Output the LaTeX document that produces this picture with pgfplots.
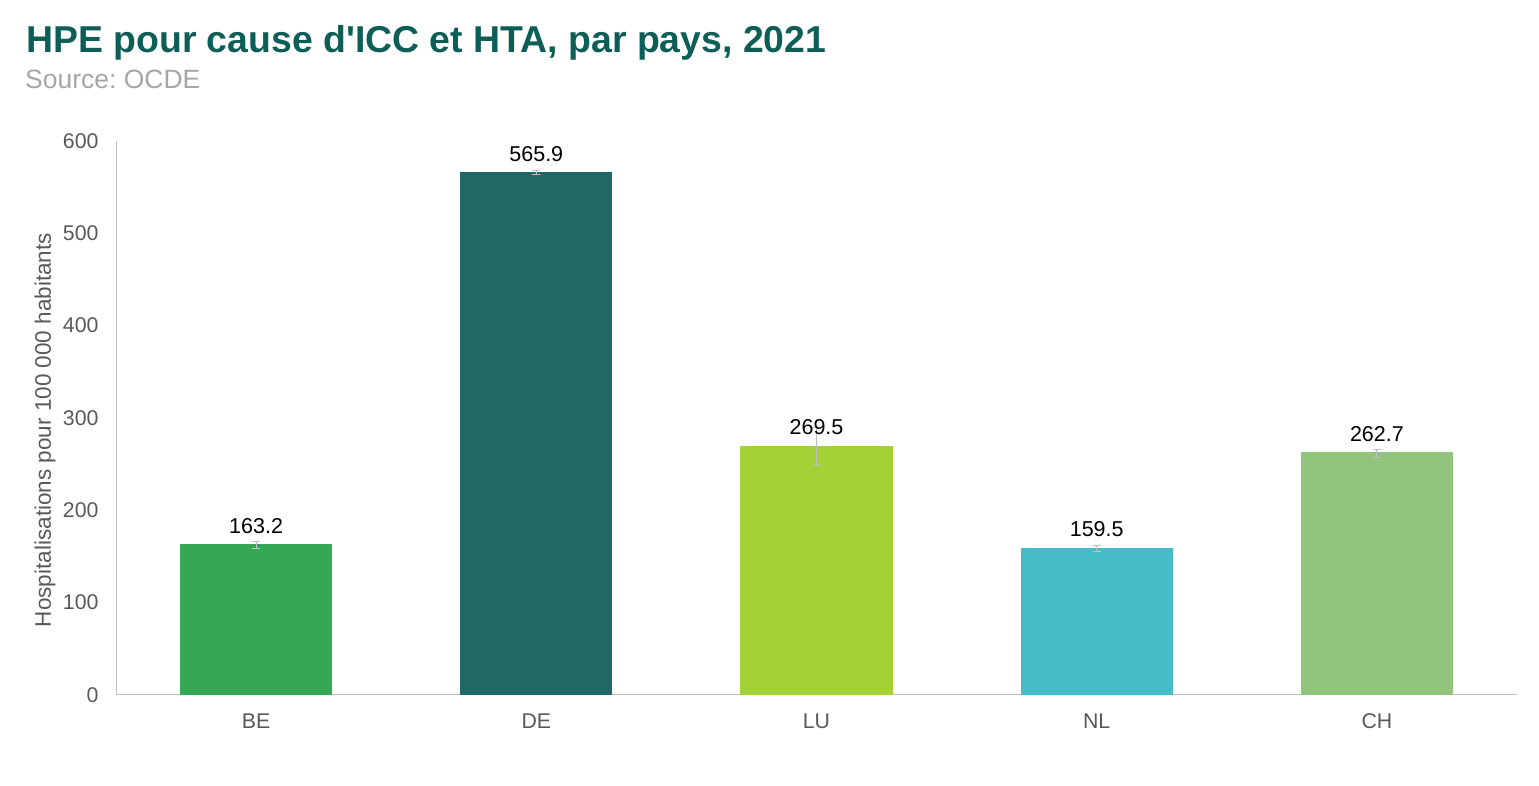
\documentclass[border=0pt]{standalone}
\usepackage{fontspec}
\setmainfont{Liberation Sans}
\usepackage{pgfplots}
\pgfplotsset{compat=1.18}
\frenchspacing
\definecolor{cBE}{HTML}{35A853}
\definecolor{cDE}{HTML}{216966}
\definecolor{cLU}{HTML}{A3D136}
\definecolor{cNL}{HTML}{47BBC7}
\definecolor{cCH}{HTML}{93C47D}
\definecolor{ctitle}{HTML}{0E5E58}
\definecolor{csrc}{HTML}{A6A6A6}
\definecolor{ctick}{HTML}{595959}
\definecolor{caxis}{HTML}{BFBFBF}
\begin{document}
\begin{tikzpicture}[x=1bp,y=1bp]
\path (0,0) rectangle (1539,785);
\node[anchor=base west, inner sep=0pt, text=ctitle, font=\fontsize{37.4bp}{42bp}\selectfont\bfseries] at (26,732) {HPE pour cause d\textquotesingle ICC et HTA, par pays, 2021};
\node[anchor=base west, inner sep=0pt, text=csrc, font=\fontsize{26.5bp}{30bp}\selectfont] at (25,696) {Source: OCDE};
\node[rotate=90, inner sep=0pt, text=ctick, font=\fontsize{22.5bp}{26bp}\selectfont] at (45,355) {Hospitalisations pour 100 000 habitants};
\begin{axis}[
  at={(116bp,90bp)}, anchor=south west,
  scale only axis, width=1401bp, height=554bp,
  xmin=-0.5, xmax=4.5, ymin=0, ymax=600,
  axis x line*=bottom, axis y line*=left,
  axis line style={draw=caxis, line width=1bp, -},
  major tick length=0pt,
  ytick={0,100,200,300,400,500,600},
  xtick={0,1,2,3,4}, xticklabels={BE,DE,LU,NL,CH},
  /pgf/number format/assume math mode=true,
  tick label style={text=ctick, font=\fontsize{21.3bp}{25bp}\selectfont},
  yticklabel style={xshift=-14bp},
  xticklabel style={yshift=-15bp},
  clip=false,
  nodes near coords,
  nodes near coords style={text=black, font=\fontsize{21.5bp}{25bp}\selectfont, anchor=south, yshift=7.5bp,
    /pgf/number format/fixed, /pgf/number format/fixed zerofill, /pgf/number format/precision=1, /pgf/number format/assume math mode=true},
  every axis plot/.append style={ybar, bar shift=0pt, bar width=0.543, draw=none,
    error bars/y dir=both, error bars/y explicit,
    error bars/error bar style={draw=caxis, line width=1bp},
    error bars/error mark options={rotate=90, mark size=4bp, draw=caxis, line width=1bp}},
]
\addplot[fill=cBE] coordinates {(0,163.2) += (0,3.5) -= (0,4.5)};
\addplot[fill=cDE] coordinates {(1,565.9) += (0,1.6) -= (0,2.2)};
\addplot[fill=cLU] coordinates {(2,269.5) += (0,20) -= (0,20)};
\addplot[fill=cNL] coordinates {(3,159.5) += (0,2) -= (0,4)};
\addplot[fill=cCH] coordinates {(4,262.7) += (0,3) -= (0,5)};
\end{axis}
\end{tikzpicture}
\end{document}
